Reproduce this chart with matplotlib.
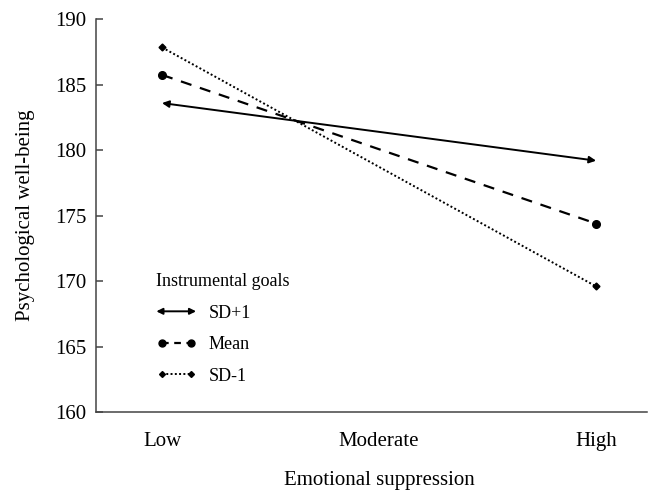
import matplotlib.pyplot as plt
from matplotlib.patches import FancyArrowPatch
from matplotlib.legend_handler import HandlerBase
from matplotlib.lines import Line2D

plt.rcParams['font.family'] = ['Liberation Serif', 'DejaVu Serif']

levels = ["Low", "Moderate", "High"]
level_pos = [1, 2, 3]
x_ends = [1, 3]

sd_plus = [183.6, 179.2]
mean_vals = [185.75, 174.4]
sd_minus = [187.85, 169.6]

yticks = [160, 165, 170, 175, 180, 185, 190]


class DoubleArrow(HandlerBase):
    def create_artists(self, legend, orig, xd, yd, w, h, fontsize, trans):
        a = FancyArrowPatch((xd, yd + h / 2), (xd + w, yd + h / 2),
                            arrowstyle='<|-|>', mutation_scale=9, lw=1.4,
                            color='black', shrinkA=0, shrinkB=0, transform=trans)
        return [a]


fig = plt.figure(figsize=(6.51, 4.93), dpi=100)
ax = fig.add_axes([0.1475, 0.164, 0.8465, 0.797])

# SD+1 : solid line with arrow heads
ax.annotate('', xy=(x_ends[1], sd_plus[1]), xytext=(x_ends[0], sd_plus[0]),
            arrowprops=dict(arrowstyle='<|-|>', color='black', lw=1.4,
                            mutation_scale=10, shrinkA=0, shrinkB=0))
ax.plot(x_ends, mean_vals, color='black', lw=1.6, ls=(0, (5, 4)),
        marker='o', markersize=5.5)
ax.plot(x_ends, sd_minus, color='black', lw=1.4, ls=(0, (1, 1.2)),
        marker='D', markersize=3.5)

ax.set_xlim(0.696, 3.235)
ax.set_ylim(160, 190)
ax.set_yticks(yticks)
ax.set_xticks(level_pos)
ax.set_xticklabels(levels)

for s in ['top', 'right']:
    ax.spines[s].set_visible(False)
for s in ['left', 'bottom']:
    ax.spines[s].set_color('#444444')
    ax.spines[s].set_linewidth(1.1)

ax.tick_params(axis='y', direction='in', length=5, width=1.1, color='#444444',
               labelsize=15, pad=7)
ax.tick_params(axis='x', length=0, labelsize=15, pad=14)

ax.set_xlabel("Emotional suppression", fontsize=15, labelpad=15)
ax.xaxis.label.set_x((2 - 0.696) / (3.235 - 0.696))
ax.set_ylabel("Psychological well-being", fontsize=15, labelpad=14)

h_plus = Line2D([], [], color='black')
h_mean = Line2D([], [], color='black', lw=1.6, ls=(0, (3, 2.5)), marker='o', markersize=5)
h_minus = Line2D([], [], color='black', lw=1.4, ls=(0, (1, 1.2)), marker='D', markersize=3)
leg = ax.legend([h_plus, h_mean, h_minus], ["SD+1", "Mean", "SD-1"],
                title="Instrumental goals", loc='upper left',
                bbox_to_anchor=(0.08, 0.395), frameon=False, fontsize=13,
                title_fontsize=13, handlelength=2.2, labelspacing=0.8,
                handletextpad=0.7, numpoints=2, alignment='left',
                handler_map={h_plus: DoubleArrow()})

fig.savefig("out.png", dpi=100)
